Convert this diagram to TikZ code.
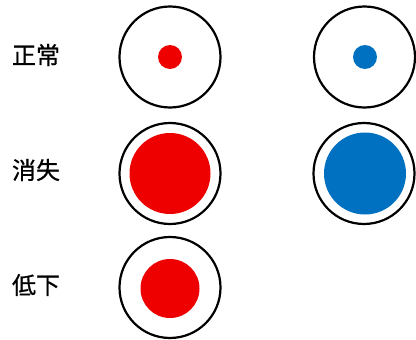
\documentclass[tikz,border=0pt]{standalone}
\usepackage{fontspec}
\newfontfamily\cjk[FakeBold=0.6]{Noto Sans CJK JP}
\definecolor{myred}{HTML}{EE0000}
\definecolor{myblue}{HTML}{0070C0}
\tikzset{
  ring/.style={draw=black, line width=2.2pt, circle, minimum size=101pt, inner sep=0pt},
  lbl/.style={font=\cjk\fontsize{24pt}{28pt}\selectfont, anchor=center, inner sep=0pt},
  dotred/.style={fill=myred, draw=none, circle, inner sep=0pt},
  dotblue/.style={fill=myblue, draw=none, circle, inner sep=0pt}
}
\begin{document}
\begin{tikzpicture}[x=1pt,y=1pt]
\useasboundingbox (0,0) rectangle (416,-340);
% labels
\node[lbl] (l1) at (36,-55) {正常};
\node[lbl] (l2) at (36,-170) {消失};
\node[lbl] (l3) at (36,-285) {低下};
% row 1
\node[ring] (r1a) at (170,-57) {};
\node[dotred, minimum size=24pt] (d1a) at (170,-57) {};
\node[ring] (r1b) at (364.5,-57) {};
\node[dotblue, minimum size=24pt] (d1b) at (365,-57) {};
% row 2
\node[ring] (r2a) at (170,-173.5) {};
\node[dotred, minimum size=81pt] (d2a) at (170,-173.5) {};
\node[ring] (r2b) at (364,-173.5) {};
\node[dotblue, minimum size=82pt] (d2b) at (365,-173.5) {};
% row 3
\node[ring] (r3a) at (170,-287.5) {};
\node[dotred, minimum size=59pt] (d3a) at (170,-288.5) {};
\end{tikzpicture}
\end{document}
